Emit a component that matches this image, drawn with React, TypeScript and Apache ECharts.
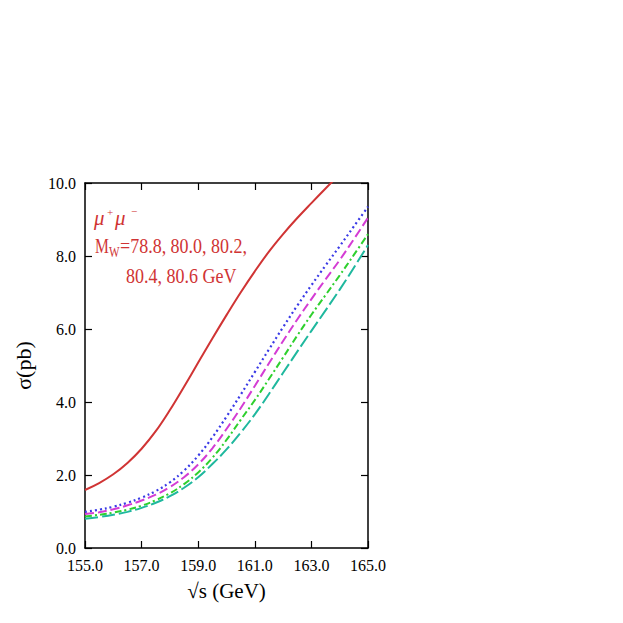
import React, { useEffect, useRef } from "react";
import * as echarts from "echarts";

const energies = [155, 155.5, 156, 156.5, 157, 157.5, 158, 158.5, 159, 159.5, 160, 160.5, 161, 161.5, 162, 162.5, 163, 163.5, 164];
const energiesFull = [155, 155.5, 156, 156.5, 157, 157.5, 158, 158.5, 159, 159.5, 160, 160.5, 161, 161.5, 162, 162.5, 163, 163.5, 164, 164.5, 165];
const sigma788 = [1.59, 1.78, 2.02, 2.33, 2.72, 3.2, 3.78, 4.42, 5.08, 5.74, 6.38, 7.0, 7.58, 8.12, 8.6, 9.04, 9.45, 9.85, 10.24];
const sigma800 = [0.99, 1.05, 1.13, 1.24, 1.38, 1.56, 1.8, 2.12, 2.53, 3.03, 3.6, 4.2, 4.82, 5.44, 6.05, 6.64, 7.2, 7.74, 8.27, 8.81, 9.35];
const sigma802 = [0.93, 0.98, 1.06, 1.17, 1.3, 1.46, 1.67, 1.94, 2.29, 2.73, 3.26, 3.83, 4.44, 5.06, 5.67, 6.26, 6.82, 7.36, 7.89, 8.46, 9.05];
const sigma804 = [0.86, 0.91, 0.97, 1.05, 1.16, 1.31, 1.5, 1.75, 2.07, 2.47, 2.96, 3.51, 4.05, 4.63, 5.22, 5.82, 6.39, 6.93, 7.47, 8.03, 8.6];
const sigma806 = [0.8, 0.85, 0.91, 0.99, 1.1, 1.24, 1.42, 1.65, 1.94, 2.3, 2.7, 3.16, 3.66, 4.22, 4.8, 5.38, 5.95, 6.51, 7.08, 7.68, 8.3];

const RED = "#d03434";

function pairs(xs: number[], ys: number[]) {
  return xs.map((x, i) => [x, ys[i]]);
}

export default function App() {
  const ref = useRef<HTMLDivElement>(null);
  useEffect(() => {
    if (!ref.current) return;
    const chart = echarts.init(ref.current, null, { renderer: "svg" });
    const font = "Liberation Serif";
    const axisCommon = {
      type: "value" as const,
      axisLine: { show: true, onZero: false, lineStyle: { color: "#000", width: 1.5 } },
      axisTick: { show: true, inside: true, length: 7, lineStyle: { color: "#000", width: 1.2 } },
      splitLine: { show: false },
    };
    const lineSeries = (name: string, xs: number[], ys: number[], color: string, type: any, width = 2) => ({
      name,
      type: "line",
      data: pairs(xs, ys),
      showSymbol: false,
      symbol: "none",
      smooth: 0.4,
      clip: true,
      lineStyle: { color, width, type },
      xAxisIndex: 0,
      yAxisIndex: 0,
    });
    const textStyle = (text: string, size: number, italic = false) => ({
      text,
      fill: RED,
      font: `${italic ? "italic " : ""}${size}px "${font}"`,
      verticalAlign: "top",
    });
    chart.setOption({
      animation: false,
      backgroundColor: "#fff",
      grid: { left: 85, right: 255, top: 183, bottom: 75 },
      xAxis: [
        {
          ...axisCommon,
          min: 155,
          max: 165,
          interval: 2,
          position: "bottom",
          axisLabel: {
            show: true,
            margin: 9,
            color: "#000",
            fontFamily: font,
            fontSize: 16,
            formatter: (v: number) => v.toFixed(1),
          },
          name: "√s (GeV)",
          nameLocation: "middle",
          nameGap: 32,
          nameTextStyle: { color: "#000", fontFamily: font, fontSize: 21 },
        },
        {
          ...axisCommon,
          min: 155,
          max: 165,
          interval: 2,
          position: "top",
          axisLabel: { show: false },
        },
      ],
      yAxis: [
        {
          ...axisCommon,
          min: 0,
          max: 10,
          interval: 2,
          position: "left",
          axisLabel: {
            show: true,
            margin: 9,
            color: "#000",
            fontFamily: font,
            fontSize: 16,
            formatter: (v: number) => v.toFixed(1),
          },
          name: "σ(pb)",
          nameLocation: "middle",
          nameGap: 51,
          nameRotate: 90,
          nameTextStyle: { color: "#000", fontFamily: font, fontSize: 22 },
        },
        {
          ...axisCommon,
          min: 0,
          max: 10,
          interval: 2,
          position: "right",
          axisLabel: { show: false },
        },
      ],
      series: [
        lineSeries("78.8", energies, sigma788, RED, "solid", 2),
        lineSeries("80.0", energiesFull, sigma800, "#3a3ae6", [2, 3], 2.2),
        lineSeries("80.2", energiesFull, sigma802, "#d43cd4", [9, 4], 2),
        lineSeries("80.4", energiesFull, sigma804, "#2ed02e", [7, 3, 2, 3], 2),
        lineSeries("80.6", energiesFull, sigma806, "#1fb89e", [13, 4], 2),
      ],
      graphic: [
        { type: "text", x: 94, y: 207, scaleX: 0.95, style: textStyle("μ", 22, true) },
        { type: "text", x: 107, y: 206, style: textStyle("+", 11) },
        { type: "text", x: 115, y: 207, scaleX: 0.95, style: textStyle("μ", 22, true) },
        { type: "text", x: 131, y: 205, style: textStyle("−", 11) },
        { type: "text", x: 95, y: 236, scaleX: 0.78, style: textStyle("M", 20) },
        { type: "text", x: 109, y: 246, scaleX: 0.8, style: textStyle("W", 14) },
        { type: "text", x: 120, y: 236, scaleX: 0.9, style: textStyle("=78.8, 80.0, 80.2,", 20) },
        { type: "text", x: 126, y: 266, scaleX: 0.9, style: textStyle("80.4, 80.6 GeV", 20) },
      ],
    });
    return () => chart.dispose();
  }, []);
  return (
    <div
      ref={ref}
      style={{ position: "absolute", left: 0, top: 0, width: 623, height: 623, background: "#fff" }}
    />
  );
}
